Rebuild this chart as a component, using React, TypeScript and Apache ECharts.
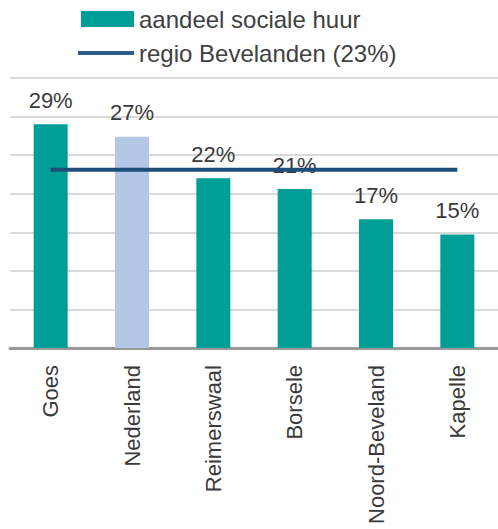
import React, { useEffect, useRef } from "react";
import * as echarts from "echarts";

const categories = ["Goes", "Nederland", "Reimerswaal", "Borsele", "Noord-Beveland", "Kapelle"];
const shareValues = [29, 27.4, 22, 20.6, 16.7, 14.7];
const shareLabels = ["29%", "27%", "22%", "21%", "17%", "15%"];
const regionValue = 23.1;
const highlightCategory = "Nederland";
const legendNames = ["aandeel sociale huur", "regio Bevelanden (23%)"];

const FONT = "'Liberation Sans', Arial, sans-serif";
const TEAL = "#009E96";
const NAVY = "#1F4E79";

export default function App() {
  const ref = useRef<HTMLDivElement>(null);
  useEffect(() => {
    if (!ref.current) return;
    const chart = echarts.init(ref.current, undefined, { renderer: "svg" });
    chart.setOption({
      animation: false,
      textStyle: { fontFamily: FONT },
      graphic: [
        { type: "rect", shape: { x: 81, y: 11, width: 53, height: 16 }, style: { fill: TEAL } },
        {
          type: "text",
          x: 139,
          y: 19,
          style: { text: legendNames[0], fontSize: 24, fill: "#404040", fontFamily: FONT, textVerticalAlign: "middle" },
        },
        { type: "line", shape: { x1: 78, y1: 53, x2: 134, y2: 53 }, style: { stroke: "#2E5C8A", lineWidth: 4 } },
        {
          type: "text",
          x: 139,
          y: 53,
          style: { text: legendNames[1], fontSize: 24, fill: "#404040", fontFamily: FONT, textVerticalAlign: "middle" },
        },
      ],
      grid: { left: 10, top: 78, width: 496, bottom: 181, containLabel: false },
      xAxis: {
        type: "category",
        data: categories,
        axisLine: { lineStyle: { color: "#999999", width: 3 } },
        axisTick: { show: false },
        axisLabel: {
          rotate: 90,
          fontSize: 22,
          color: "#3A3A3A",
          margin: 17,
          fontFamily: FONT,
        },
      },
      yAxis: {
        type: "value",
        min: 0,
        max: 35,
        interval: 5,
        axisLabel: { show: false },
        axisLine: { show: false },
        axisTick: { show: false },
        splitLine: { lineStyle: { color: "#D9D9D9", width: 2 } },
      },
      series: [
        {
          name: legendNames[0],
          type: "bar",
          barWidth: 34,
          itemStyle: { color: TEAL },
          data: shareValues.map((v, i) => ({
            value: v,
            itemStyle: categories[i] === highlightCategory ? { color: "#B4C7E7" } : undefined,
          })),
          label: {
            show: true,
            position: "top",
            distance: 13,
            fontSize: 22,
            color: "#3A3A3A",
            fontFamily: FONT,
            formatter: (p: any) => shareLabels[p.dataIndex],
          },
          z: 2,
        },
        {
          name: legendNames[1],
          type: "line",
          data: categories.map(() => regionValue),
          symbol: "none",
          showSymbol: false,
          lineStyle: { color: NAVY, width: 4 },
          itemStyle: { color: NAVY },
          z: 3,
        },
      ],
    });
    return () => chart.dispose();
  }, []);
  return (
    <div
      ref={ref}
      style={{ position: "absolute", left: 0, top: 0, width: 498, height: 529, background: "#fff" }}
    />
  );
}
